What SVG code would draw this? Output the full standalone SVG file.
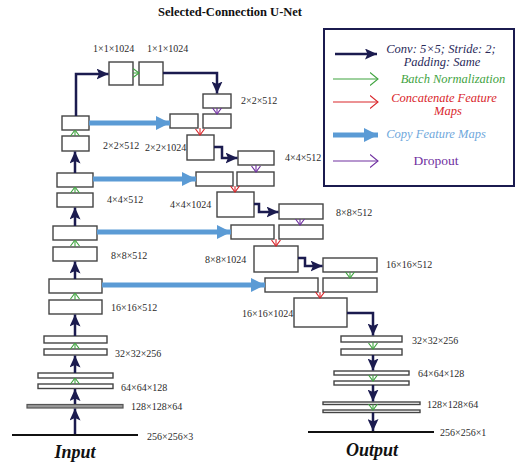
<svg xmlns="http://www.w3.org/2000/svg" width="515" height="464" viewBox="0 0 515 464">
<defs>
<marker id="mDark" markerUnits="userSpaceOnUse" markerWidth="12" markerHeight="11" viewBox="0 0 12 11" refX="12" refY="5.5" orient="auto"><path d="M0,0 L12,5.5 L0,11 L2.5,5.5 z" fill="#1b1b4f"/></marker>
<marker id="mBlue" markerUnits="userSpaceOnUse" markerWidth="14" markerHeight="14" viewBox="0 0 14 14" refX="14" refY="7" orient="auto"><path d="M0,0 L14,7 L0,14 z" fill="#5b9bd5"/></marker>
<marker id="mGreen" markerUnits="userSpaceOnUse" markerWidth="7" markerHeight="10" viewBox="0 0 7 10" refX="6.5" refY="5" orient="auto"><path d="M0.5,0.5 L6.5,5 L0.5,9.5" fill="none" stroke="#3fa33f" stroke-width="1.1"/></marker>
<marker id="mRed" markerUnits="userSpaceOnUse" markerWidth="7" markerHeight="10" viewBox="0 0 7 10" refX="6.5" refY="5" orient="auto"><path d="M0.5,0.5 L6.5,5 L0.5,9.5" fill="none" stroke="#d9262b" stroke-width="1.1"/></marker>
<marker id="mPurple" markerUnits="userSpaceOnUse" markerWidth="7" markerHeight="10" viewBox="0 0 7 10" refX="6.5" refY="5" orient="auto"><path d="M0.5,0.5 L6.5,5 L0.5,9.5" fill="none" stroke="#7030a0" stroke-width="1.1"/></marker>
<marker id="lGreen" markerUnits="userSpaceOnUse" markerWidth="9" markerHeight="14" viewBox="0 0 9 14" refX="8.5" refY="7" orient="auto"><path d="M0.5,0.5 L8.5,7 L0.5,13.5" fill="none" stroke="#3fa33f" stroke-width="1.1"/></marker>
<marker id="lRed" markerUnits="userSpaceOnUse" markerWidth="9" markerHeight="14" viewBox="0 0 9 14" refX="8.5" refY="7" orient="auto"><path d="M0.5,0.5 L8.5,7 L0.5,13.5" fill="none" stroke="#d9262b" stroke-width="1.1"/></marker>
<marker id="lPurple" markerUnits="userSpaceOnUse" markerWidth="9" markerHeight="14" viewBox="0 0 9 14" refX="8.5" refY="7" orient="auto"><path d="M0.5,0.5 L8.5,7 L0.5,13.5" fill="none" stroke="#7030a0" stroke-width="1.1"/></marker>
</defs>
<style>
.box{fill:#fff;stroke:#444;stroke-width:1.4}
.thin{fill:#999;stroke:#555;stroke-width:1.2}
.base{stroke:#111;stroke-width:2}
.dark{fill:none;stroke:#1b1b4f;stroke-width:2.5;marker-end:url(#mDark)}
.blue{fill:none;stroke:#5b9bd5;stroke-width:5;marker-end:url(#mBlue)}
.green{fill:none;stroke:#3fa33f;stroke-width:1.1;marker-end:url(#mGreen)}
.red{fill:none;stroke:#d9262b;stroke-width:1.1;marker-end:url(#mRed)}
.purple{fill:none;stroke:#7030a0;stroke-width:1.1;marker-end:url(#mPurple)}
.lbl{font-family:"Liberation Serif",serif;font-size:10px;fill:#2a2a2a}
.title{font-family:"Liberation Serif",serif;font-size:12.5px;font-weight:bold;fill:#111}
.big{font-family:"Liberation Serif",serif;font-size:18px;font-weight:bold;font-style:italic;fill:#111}
.leg{font-family:"Liberation Serif",serif;font-size:12.5px;font-style:italic}
.legn{font-family:"Liberation Serif",serif;font-size:13.5px;font-style:normal}
</style>
<rect width="515" height="464" fill="#fff"/>
<text class="title" x="230" y="16" text-anchor="middle">Selected-Connection U-Net</text>

<g id="legend">
<rect x="324" y="29" width="190" height="157" fill="none" stroke="#1b1b4f" stroke-width="2"/>
<line x1="335" y1="54" x2="377" y2="54" class="dark"/>
<text class="leg" x="441" y="52.5" text-anchor="middle" fill="#2a2a5a">Conv: 5×5; Stride: 2;</text>
<text class="leg" x="442" y="66" text-anchor="middle" fill="#2a2a5a">Padding: Same</text>
<line x1="333" y1="79" x2="378" y2="79" stroke="#3fa33f" stroke-width="1.1" marker-end="url(#lGreen)"/>
<text class="leg" x="453" y="83" text-anchor="middle" fill="#3fa33f">Batch Normalization</text>
<line x1="333" y1="102" x2="378" y2="102" stroke="#d9262b" stroke-width="1.1" marker-end="url(#lRed)"/>
<text class="leg" x="444" y="101.5" text-anchor="middle" fill="#d9262b">Concatenate Feature</text>
<text class="leg" x="448" y="115" text-anchor="middle" fill="#d9262b">Maps</text>
<line x1="333" y1="135" x2="378" y2="135" class="blue"/>
<text class="leg" x="436" y="138" text-anchor="middle" fill="#6fa8dc">Copy Feature Maps</text>
<line x1="333" y1="161" x2="378" y2="161" stroke="#7030a0" stroke-width="1.1" marker-end="url(#lPurple)"/>
<text class="legn" x="436" y="165" text-anchor="middle" fill="#7030a0">Dropout</text>
</g>

<g id="input">
<line x1="12" y1="435" x2="138" y2="435" class="base"/>
<text class="lbl" x="147" y="440">256×256×3</text>
<text class="big" x="75" y="458" text-anchor="middle">Input</text>
</g>
<g id="enc128"><rect class="thin" x="27" y="404.5" width="96" height="3.5"/><text class="lbl" x="131" y="410">128×128×64</text></g>
<g id="enc64"><rect class="box" x="38" y="373" width="75" height="5"/><rect class="box" x="38" y="384" width="75" height="4.5"/><text class="lbl" x="121" y="391">64×64×128</text></g>
<g id="enc32"><rect class="box" x="44" y="336" width="63" height="7"/><rect class="box" x="44" y="349" width="63" height="6"/><text class="lbl" x="115" y="357">32×32×256</text></g>
<g id="enc16"><rect class="box" x="49" y="279" width="53" height="14"/><rect class="box" x="49" y="300" width="53" height="14"/><text class="lbl" x="111" y="311">16×16×512</text></g>
<g id="enc8"><rect class="box" x="53" y="226" width="44" height="14"/><rect class="box" x="53" y="247" width="44" height="14"/><text class="lbl" x="111" y="259">8×8×512</text></g>
<g id="enc4"><rect class="box" x="57" y="173" width="36" height="14"/><rect class="box" x="57" y="193" width="36" height="14"/><text class="lbl" x="107" y="203">4×4×512</text></g>
<g id="enc2"><rect class="box" x="62" y="116" width="27" height="14"/><rect class="box" x="62" y="136" width="27" height="15"/><text class="lbl" x="103" y="149">2×2×512</text></g>
<g id="bottleneck"><rect class="box" x="109" y="62" width="24" height="23"/><rect class="box" x="139" y="62" width="24" height="23"/><text class="lbl" x="93" y="52">1×1×1024</text><text class="lbl" x="147" y="52">1×1×1024</text></g>

<g id="dec2"><rect class="box" x="203" y="94" width="28" height="14"/><text class="lbl" x="241" y="104">2×2×512</text>
<rect class="box" x="170" y="114" width="28" height="14"/><rect class="box" x="203" y="114" width="28" height="14"/>
<rect class="box" x="187" y="135" width="27" height="25"/><text class="lbl" x="145" y="151">2×2×1024</text></g>
<g id="dec4"><rect class="box" x="238" y="151" width="36" height="14"/><text class="lbl" x="285" y="161">4×4×512</text>
<rect class="box" x="196" y="172" width="37" height="14"/><rect class="box" x="237" y="172" width="37" height="14"/>
<rect class="box" x="217" y="192" width="37" height="25"/><text class="lbl" x="170" y="208">4×4×1024</text></g>
<g id="dec8"><rect class="box" x="279" y="204" width="44" height="15"/><text class="lbl" x="336" y="216">8×8×512</text>
<rect class="box" x="231" y="225" width="43" height="14"/><rect class="box" x="279" y="225" width="44" height="14"/>
<rect class="box" x="254" y="246" width="44" height="26"/><text class="lbl" x="205" y="263">8×8×1024</text></g>
<g id="dec16"><rect class="box" x="323" y="258" width="54" height="14"/><text class="lbl" x="386" y="268">16×16×512</text>
<rect class="box" x="265" y="278" width="53" height="14"/><rect class="box" x="323" y="278" width="54" height="14"/>
<rect class="box" x="294" y="298" width="53" height="29"/><text class="lbl" x="242" y="317">16×16×1024</text></g>
<g id="dec32"><rect class="box" x="341" y="336" width="61" height="6"/><rect class="box" x="341" y="349" width="61" height="6"/><text class="lbl" x="412" y="344">32×32×256</text></g>
<g id="dec64"><rect class="box" x="334" y="371" width="75" height="4"/><rect class="box" x="334" y="381" width="75" height="4"/><text class="lbl" x="418" y="377">64×64×128</text></g>
<g id="dec128"><rect class="box" x="323" y="402" width="97" height="2.5"/><rect class="box" x="323" y="410" width="97" height="2.5"/><text class="lbl" x="427" y="408">128×128×64</text></g>
<g id="output">
<line x1="308" y1="432" x2="434" y2="432" class="base"/>
<text class="lbl" x="440" y="436">256×256×1</text>
<text class="big" x="372" y="456" text-anchor="middle">Output</text>
</g>

<g id="connectors">
<line class="dark" x1="75" y1="434" x2="75" y2="408.5"/>
<line class="dark" x1="75" y1="404" x2="75" y2="389"/>
<line class="green" x1="75" y1="384" x2="75" y2="378"/>
<line class="dark" x1="75" y1="373" x2="75" y2="355.5"/>
<line class="green" x1="75" y1="349" x2="75" y2="343"/>
<line class="dark" x1="75" y1="336" x2="75" y2="314.5"/>
<line class="green" x1="75" y1="300" x2="75" y2="293"/>
<line class="dark" x1="75" y1="279" x2="75" y2="261.5"/>
<line class="green" x1="75" y1="247" x2="75" y2="240"/>
<line class="dark" x1="75" y1="226" x2="75" y2="207.5"/>
<line class="green" x1="75" y1="193" x2="75" y2="187"/>
<line class="dark" x1="75" y1="173" x2="75" y2="151.5"/>
<line class="green" x1="75" y1="136" x2="75" y2="130"/>
<path class="dark" d="M76,116 V74 H108.5"/>
<line class="green" x1="133" y1="73" x2="139" y2="73"/>
<path class="dark" d="M163,73 H217 V93.5"/>
<line class="purple" x1="217" y1="108" x2="217" y2="114"/>
<line class="blue" x1="89" y1="123" x2="170" y2="123"/>
<line class="red" x1="200" y1="128" x2="200" y2="135"/>
<path class="dark" d="M214,147 H222 V158 H237.5"/>
<line class="purple" x1="256" y1="165" x2="256" y2="172"/>
<line class="blue" x1="93" y1="179" x2="196" y2="179"/>
<line class="red" x1="235" y1="186" x2="235" y2="192"/>
<path class="dark" d="M254,204 H259 V212 H278.5"/>
<line class="purple" x1="300" y1="219" x2="300" y2="225"/>
<line class="blue" x1="97" y1="232" x2="231" y2="232"/>
<line class="red" x1="276" y1="239" x2="276" y2="246"/>
<path class="dark" d="M298,258 H305 V266 H322.5"/>
<line class="green" x1="350" y1="272" x2="350" y2="278"/>
<line class="blue" x1="102" y1="285" x2="265" y2="285"/>
<line class="red" x1="320" y1="292" x2="320" y2="298"/>
<path class="dark" d="M347,313 H373 V335.5"/>
<line class="green" x1="373" y1="342" x2="373" y2="349"/>
<line class="dark" x1="373" y1="355" x2="373" y2="370.5"/>
<line class="green" x1="373" y1="375" x2="373" y2="381"/>
<line class="dark" x1="373" y1="385" x2="373" y2="401.5"/>
<line class="green" x1="373" y1="404.5" x2="373" y2="410"/>
<line class="dark" x1="373" y1="412.5" x2="373" y2="431"/>
</g>
</svg>
